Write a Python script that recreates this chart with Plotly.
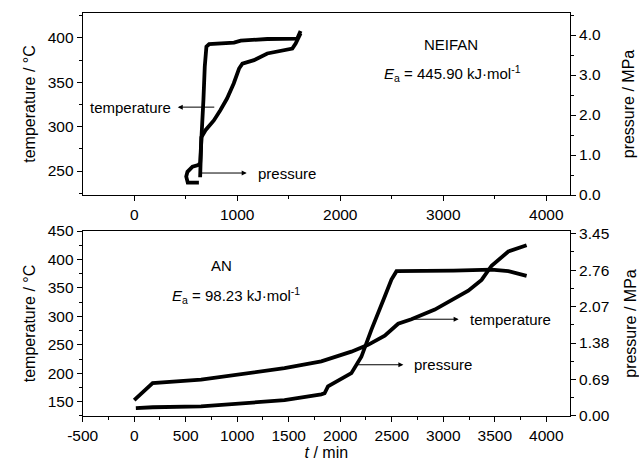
import plotly.graph_objects as go

# ---------------- data ----------------
# NEIFAN (top panel)
top_temp_t = [640, 646, 652, 692, 773, 836, 901, 966, 1018, 1050, 1163, 1292, 1454, 1535, 1567, 1599, 1615]
top_temp_T = [243, 270, 288, 296, 307, 318.5, 331.7, 348.6, 365.5, 371, 374.9, 382.4, 386, 388, 393.7, 401, 405]
top_pres_t = [628, 560, 520, 505, 517, 566, 621, 640, 646, 662, 672, 685, 701, 727, 969, 1034, 1292, 1583, 1615]
top_pres_p = [0.31, 0.31, 0.31, 0.46, 0.58, 0.71, 0.75, 0.80, 1.04, 1.71, 2.38, 3.21, 3.71, 3.77, 3.81, 3.86, 3.90, 3.91, 4.10]

# AN (bottom panel)
bot_temp_t = [0, 60, 120, 179, 649, 1135, 1459, 1816, 2108, 2270, 2432, 2562, 2691, 2918, 3243, 3372, 3469, 3632, 3809]
bot_temp_T = [153, 163, 173, 182.7, 189, 200, 209, 221, 238, 250, 266, 287, 295, 312, 345, 364, 389, 414, 425]
bot_pres_t = [16, 100, 180, 649, 1070, 1459, 1816, 1848, 1881, 2108, 2205, 2302, 2432, 2497, 2546, 2800, 3100, 3469, 3632, 3809]
bot_pres_p = [0.15, 0.16, 0.165, 0.18, 0.24, 0.30, 0.41, 0.43, 0.56, 0.81, 1.12, 1.63, 2.26, 2.58, 2.74, 2.74, 2.75, 2.77, 2.74, 2.65]

# tick labels
top_x_ticks = [0, 1000, 2000, 3000, 4000]
bot_x_ticks = [-500, 0, 500, 1000, 1500, 2000, 2500, 3000, 3500, 4000]
bot_x_text = ["-500", "0", "500", "1000", "1500", "2000", "2500", "3000", "3500", "4000"]
top_left_ticks = [250, 300, 350, 400]
top_right_ticks = [0, 1, 2, 3, 4]
top_right_text = ["0.0", "1.0", "2.0", "3.0", "4.0"]
bot_left_ticks = [150, 200, 250, 300, 350, 400, 450]
bot_right_ticks = [0, 0.69, 1.38, 2.07, 2.76, 3.45]
bot_right_text = ["0.00", "0.69", "1.38", "2.07", "2.76", "3.45"]

FONT = "Liberation Sans, Arial, sans-serif"
line = dict(color="black", width=3.8)

fig = go.Figure()
fig.add_trace(go.Scatter(x=top_temp_t, y=top_temp_T, mode="lines", line=line, xaxis="x", yaxis="y"))
fig.add_trace(go.Scatter(x=top_pres_t, y=top_pres_p, mode="lines", line=line, xaxis="x", yaxis="y2"))
fig.add_trace(go.Scatter(x=bot_temp_t, y=bot_temp_T, mode="lines", line=line, xaxis="x2", yaxis="y3"))
fig.add_trace(go.Scatter(x=bot_pres_t, y=bot_pres_p, mode="lines", line=line, xaxis="x2", yaxis="y4"))

ax_common = dict(showline=True, linecolor="black", linewidth=1, ticks="outside", ticklen=5,
                 tickcolor="black", tickwidth=1, showgrid=False, zeroline=False, automargin=False,
                 tickfont=dict(family=FONT, size=15.5, color="black"))
minor_common = dict(ticks="outside", ticklen=3, tickcolor="black", tickwidth=1, showgrid=False)
ttl = dict(family=FONT, size=16, color="black")

xdom = [0.1294, 0.892]
fig.update_layout(
    width=639, height=465, margin=dict(l=0, r=0, t=0, b=0),
    paper_bgcolor="white", plot_bgcolor="white", showlegend=False,
    font=dict(family=FONT, size=15, color="black"),
    xaxis=dict(**ax_common, domain=xdom, anchor="y", range=[-500, 4230], mirror=True,
               tickvals=top_x_ticks, minor=dict(**minor_common, tickvals=[500, 1500, 2500, 3500])),
    yaxis=dict(**ax_common, domain=[0.5806, 0.972], anchor="x", range=[223, 428],
               tickvals=top_left_ticks, minor=dict(**minor_common, tickvals=[225, 275, 325, 375, 425]),
               title=dict(text="temperature / °C", font=ttl, standoff=8)),
    yaxis2=dict(**ax_common, overlaying="y", side="right", anchor="x", range=[0, 4.55],
                tickvals=top_right_ticks, ticktext=top_right_text,
                minor=dict(**minor_common, tickvals=[0.5, 1.5, 2.5, 3.5, 4.5]),
                title=dict(text="pressure / MPa", font=ttl, standoff=22)),
    xaxis2=dict(**ax_common, domain=xdom, anchor="y3", range=[-500, 4230], mirror=True,
                tickvals=bot_x_ticks, ticktext=bot_x_text,
                minor=dict(**minor_common, tickvals=[-250, 250, 750, 1250, 1750, 2250, 2750, 3250, 3750, 4250]),
                title=dict(text="<i>t</i> / min", font=ttl, standoff=4)),
    yaxis3=dict(**ax_common, domain=[0.1054, 0.5032], anchor="x2", range=[125, 450],
                tickvals=bot_left_ticks,
                minor=dict(**minor_common, tickvals=[125, 175, 225, 275, 325, 375, 425]),
                title=dict(text="temperature / °C", font=ttl, standoff=8)),
    yaxis4=dict(**ax_common, overlaying="y3", side="right", anchor="x2", range=[0, 3.5],
                tickvals=bot_right_ticks, ticktext=bot_right_text,
                minor=dict(**minor_common, tickvals=[0.345, 1.035, 1.725, 2.415, 3.105]),
                title=dict(text="pressure / MPa", font=ttl, standoff=16)),
)

tf = dict(family=FONT, size=15, color="black")
arrow = dict(showarrow=True, arrowhead=2, arrowsize=1, arrowwidth=1, arrowcolor="black", text="")
annots = [
    # top panel
    dict(x=3072, y=392, xref="x", yref="y", text="NEIFAN", showarrow=False, font=tf),
    dict(x=3088, y=360, xref="x", yref="y", text="<i>E</i><sub>a</sub> = 445.90 kJ·mol<sup>-1</sup>",
         showarrow=False, font=tf),
    dict(x=375, y=322, xref="x", yref="y", text="temperature", showarrow=False, xanchor="right", font=tf),
    dict(x=423, y=322, xref="x", yref="y", ax=792, ay=322, axref="x", ayref="y", **arrow),
    dict(x=1178, y=0.55, xref="x", yref="y2", text="pressure", showarrow=False, xanchor="left", font=tf),
    dict(x=1092, y=0.55, xref="x", yref="y2", ax=627, ay=0.55, axref="x", ayref="y2", **arrow),
    # bottom panel
    dict(x=843, y=389, xref="x2", yref="y3", text="AN", showarrow=False, font=tf),
    dict(x=991, y=337, xref="x2", yref="y3", text="<i>E</i><sub>a</sub> = 98.23 kJ·mol<sup>-1</sup>",
         showarrow=False, font=tf),
    dict(x=3236, y=295, xref="x2", yref="y3", text="temperature", showarrow=False, xanchor="left", font=tf),
    dict(x=3149, y=295, xref="x2", yref="y3", ax=2692, ay=295, axref="x2", ayref="y3", **arrow),
    dict(x=2700, y=215, xref="x2", yref="y3", text="pressure", showarrow=False, xanchor="left", font=tf),
    dict(x=2613, y=215, xref="x2", yref="y3", ax=2137, ay=215, axref="x2", ayref="y3", **arrow),
]
fig.update_layout(annotations=annots)

fig.write_html("out.html")
